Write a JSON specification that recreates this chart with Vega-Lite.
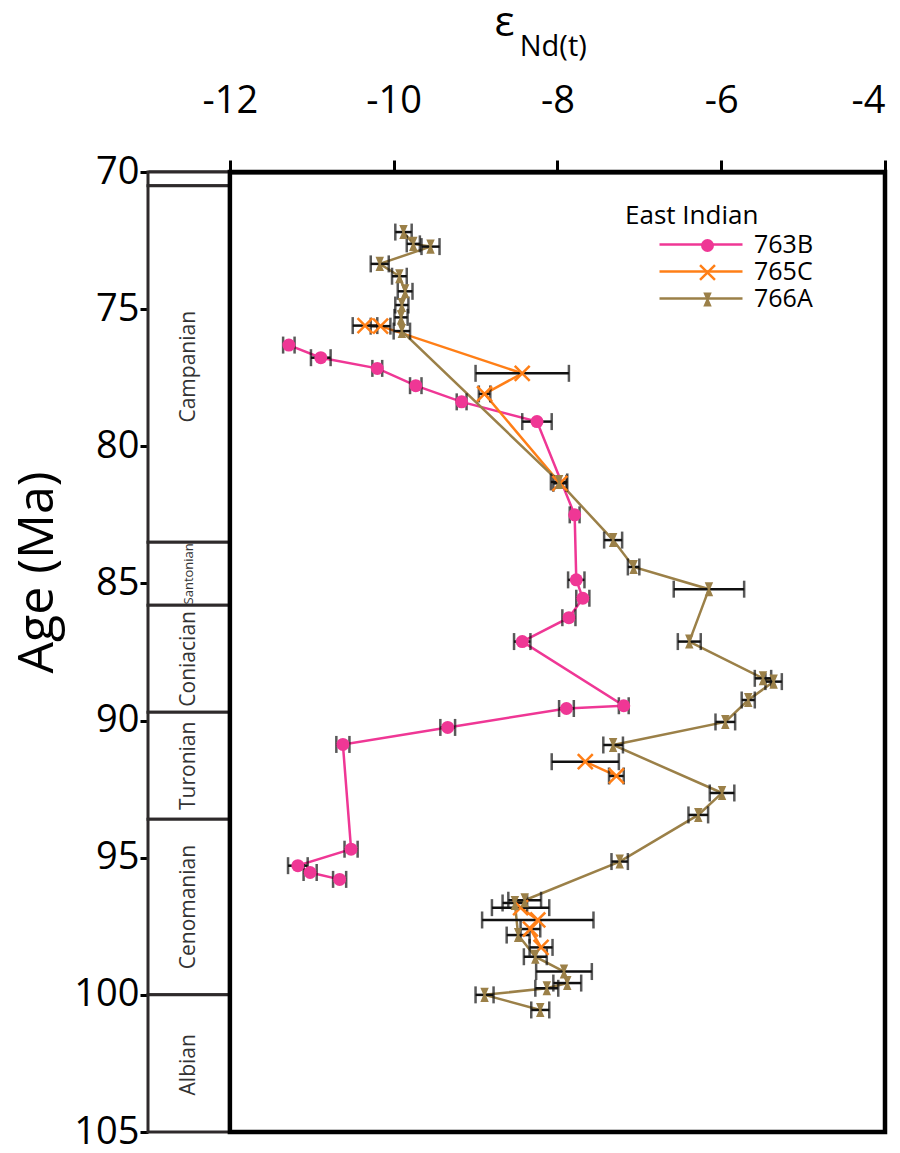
{
  "$schema": "https://vega.github.io/schema/vega-lite/v6.json",
  "width": 737,
  "height": 960,
  "autosize": {"type": "none"},
  "padding": {"left": 148, "top": 172, "right": 15, "bottom": 21},
  "background": "white",
  "config": {"view": {"stroke": null}, "font": "Open Sans"},
  "datasets": {
    "nd": [
      {"site": "763B", "seg": "b1", "age": 76.31, "eps": -11.28, "lo": -11.35, "hi": -11.21},
      {"site": "763B", "seg": "b1", "age": 76.77, "eps": -10.89, "lo": -11.01, "hi": -10.77},
      {"site": "763B", "seg": "b1", "age": 77.16, "eps": -10.20, "lo": -10.26, "hi": -10.14},
      {"site": "763B", "seg": "b1", "age": 77.79, "eps": -9.73, "lo": -9.80, "hi": -9.66},
      {"site": "763B", "seg": "b1", "age": 78.38, "eps": -9.17, "lo": -9.23, "hi": -9.11},
      {"site": "763B", "seg": "b1", "age": 79.10, "eps": -8.25, "lo": -8.43, "hi": -8.07},
      {"site": "763B", "seg": "b1", "age": 82.50, "eps": -7.79, "lo": -7.85, "hi": -7.73},
      {"site": "763B", "seg": "b1", "age": 84.87, "eps": -7.77, "lo": -7.87, "hi": -7.67},
      {"site": "763B", "seg": "b1", "age": 85.54, "eps": -7.69, "lo": -7.77, "hi": -7.61},
      {"site": "763B", "seg": "b1", "age": 86.25, "eps": -7.86, "lo": -7.94, "hi": -7.78},
      {"site": "763B", "seg": "b1", "age": 87.12, "eps": -8.43, "lo": -8.53, "hi": -8.33},
      {"site": "763B", "seg": "b1", "age": 89.46, "eps": -7.19, "lo": -7.25, "hi": -7.13},
      {"site": "763B", "seg": "b1", "age": 89.56, "eps": -7.89, "lo": -7.98, "hi": -7.80},
      {"site": "763B", "seg": "b1", "age": 90.25, "eps": -9.34, "lo": -9.43, "hi": -9.25},
      {"site": "763B", "seg": "b1", "age": 90.87, "eps": -10.62, "lo": -10.70, "hi": -10.54},
      {"site": "763B", "seg": "b1", "age": 94.69, "eps": -10.52, "lo": -10.60, "hi": -10.44},
      {"site": "763B", "seg": "b1", "age": 95.29, "eps": -11.17, "lo": -11.29, "hi": -11.05},
      {"site": "763B", "seg": "b1", "age": 95.54, "eps": -11.02, "lo": -11.10, "hi": -10.94},
      {"site": "763B", "seg": "b1", "age": 95.79, "eps": -10.66, "lo": -10.74, "hi": -10.58},
      {"site": "765C", "seg": "c1", "age": 75.60, "eps": -10.35, "lo": -10.50, "hi": -10.20},
      {"site": "765C", "seg": "c1", "age": 75.62, "eps": -10.16, "lo": -10.28, "hi": -10.04},
      {"site": "765C", "seg": "c1", "age": 77.34, "eps": -8.43, "lo": -9.00, "hi": -7.86},
      {"site": "765C", "seg": "c1", "age": 78.09, "eps": -8.89, "lo": -8.96, "hi": -8.82},
      {"site": "765C", "seg": "c1", "age": 81.35, "eps": -7.97, "lo": -8.05, "hi": -7.89},
      {"site": "765C", "seg": "c2", "age": 91.50, "eps": -7.66, "lo": -8.07, "hi": -7.25},
      {"site": "765C", "seg": "c2", "age": 92.02, "eps": -7.28, "lo": -7.37, "hi": -7.19},
      {"site": "765C", "seg": "c3", "age": 96.82, "eps": -8.45, "lo": -8.80, "hi": -8.10},
      {"site": "765C", "seg": "c3", "age": 97.27, "eps": -8.24, "lo": -8.92, "hi": -7.56},
      {"site": "765C", "seg": "c3", "age": 97.60, "eps": -8.33, "lo": -8.45, "hi": -8.21},
      {"site": "765C", "seg": "c3", "age": 98.27, "eps": -8.20, "lo": -8.34, "hi": -8.06},
      {"site": "766A", "seg": "a1", "age": 72.19, "eps": -9.88, "lo": -9.98, "hi": -9.78},
      {"site": "766A", "seg": "a1", "age": 72.62, "eps": -9.76, "lo": -9.84, "hi": -9.68},
      {"site": "766A", "seg": "a1", "age": 72.72, "eps": -9.55, "lo": -9.66, "hi": -9.44},
      {"site": "766A", "seg": "a1", "age": 73.35, "eps": -10.17, "lo": -10.28, "hi": -10.06},
      {"site": "766A", "seg": "a1", "age": 73.80, "eps": -9.93, "lo": -10.02, "hi": -9.84},
      {"site": "766A", "seg": "a1", "age": 74.35, "eps": -9.86, "lo": -9.95, "hi": -9.77},
      {"site": "766A", "seg": "a1", "age": 74.85, "eps": -9.90, "lo": -9.98, "hi": -9.82},
      {"site": "766A", "seg": "a1", "age": 75.30, "eps": -9.91, "lo": -9.99, "hi": -9.83},
      {"site": "766A", "seg": "a1", "age": 75.80, "eps": -9.90, "lo": -10.00, "hi": -9.80},
      {"site": "766A", "seg": "a1", "age": 81.30, "eps": -7.98, "lo": -8.08, "hi": -7.88},
      {"site": "766A", "seg": "a1", "age": 83.42, "eps": -7.32, "lo": -7.43, "hi": -7.21},
      {"site": "766A", "seg": "a1", "age": 84.40, "eps": -7.07, "lo": -7.14, "hi": -7.00},
      {"site": "766A", "seg": "a1", "age": 85.21, "eps": -6.15, "lo": -6.58, "hi": -5.72},
      {"site": "766A", "seg": "a1", "age": 87.12, "eps": -6.39, "lo": -6.53, "hi": -6.25},
      {"site": "766A", "seg": "a1", "age": 88.46, "eps": -5.49, "lo": -5.59, "hi": -5.39},
      {"site": "766A", "seg": "a1", "age": 88.58, "eps": -5.36, "lo": -5.46, "hi": -5.26},
      {"site": "766A", "seg": "a1", "age": 89.25, "eps": -5.67, "lo": -5.75, "hi": -5.59},
      {"site": "766A", "seg": "a1", "age": 90.05, "eps": -5.95, "lo": -6.07, "hi": -5.83},
      {"site": "766A", "seg": "a1", "age": 90.89, "eps": -7.32, "lo": -7.44, "hi": -7.20},
      {"site": "766A", "seg": "a1", "age": 92.64, "eps": -5.99, "lo": -6.14, "hi": -5.84},
      {"site": "766A", "seg": "a1", "age": 93.44, "eps": -6.28, "lo": -6.40, "hi": -6.16},
      {"site": "766A", "seg": "a1", "age": 95.14, "eps": -7.24, "lo": -7.34, "hi": -7.14},
      {"site": "766A", "seg": "a1", "age": 96.55, "eps": -8.40, "lo": -8.60, "hi": -8.20},
      {"site": "766A", "seg": "a1", "age": 96.65, "eps": -8.52, "lo": -8.67, "hi": -8.37},
      {"site": "766A", "seg": "a1", "age": 97.82, "eps": -8.48, "lo": -8.62, "hi": -8.34},
      {"site": "766A", "seg": "a1", "age": 98.61, "eps": -8.27, "lo": -8.41, "hi": -8.13},
      {"site": "766A", "seg": "a1", "age": 99.15, "eps": -7.92, "lo": -8.26, "hi": -7.58},
      {"site": "766A", "seg": "a1", "age": 99.57, "eps": -7.88, "lo": -8.05, "hi": -7.71},
      {"site": "766A", "seg": "a1", "age": 99.76, "eps": -8.13, "lo": -8.27, "hi": -7.99},
      {"site": "766A", "seg": "a1", "age": 100.00, "eps": -8.89, "lo": -9.00, "hi": -8.78},
      {"site": "766A", "seg": "a1", "age": 100.55, "eps": -8.21, "lo": -8.32, "hi": -8.10}
    ],
    "stages": [
      {"stage": "", "start": 70.0, "end": 70.5, "label_age": 70.25},
      {"stage": "Campanian", "start": 70.5, "end": 83.5, "label_age": 77.1},
      {"stage": "Santonian", "start": 83.5, "end": 85.8, "label_age": 84.65},
      {"stage": "Coniacian", "start": 85.8, "end": 89.7, "label_age": 87.75},
      {"stage": "Turonian", "start": 89.7, "end": 93.6, "label_age": 91.65},
      {"stage": "Cenomanian", "start": 93.6, "end": 100.0, "label_age": 96.8},
      {"stage": "Albian", "start": 100.0, "end": 105.0, "label_age": 102.55}
    ]
  },
  "layer": [
    {
      "data": {"name": "stages"},
      "mark": {"type": "rect", "fill": "white", "stroke": "#2e2a2b", "strokeWidth": 3},
      "encoding": {
        "x": {"datum": -13, "type": "quantitative", "scale": {"domain": [-13, -4], "nice": false, "zero": false},
          "axis": {"orient": "top", "values": [-12, -10, -8, -6, -4], "labelExpr": "'' + datum.value", "grid": false, "domainColor": "black", "domainWidth": 4, "tickColor": "black", "tickWidth": 3, "tickSize": 12, "labelFontSize": 38, "labelColor": "black", "labelPadding": 40, "title": "ε", "titleFontSize": 42, "titleFontWeight": "normal", "titleColor": "black", "titleX": 346, "titleY": -137, "titleAlign": "left", "titleBaseline": "alphabetic"}},
        "x2": {"datum": -12},
        "y": {"field": "start", "type": "quantitative", "scale": {"domain": [70, 105], "reverse": true, "nice": false, "zero": false},
          "axis": {"orient": "left", "values": [70, 75, 80, 85, 90, 95, 100, 105], "grid": false, "domainColor": "#2e2a2b", "domainWidth": 3, "tickColor": "black", "tickWidth": 3, "tickSize": 8, "labelFontSize": 38, "labelColor": "black", "labelPadding": 1, "title": "Age (Ma)", "titleFontSize": 50, "titleFontWeight": "normal", "titleColor": "black", "titleX": -96, "titleY": 400, "titleAngle": 270, "titleAlign": "center", "titleBaseline": "alphabetic"}},
        "y2": {"field": "end"}
      }
    },
    {
      "data": {"values": [{"label": "Nd(t)"}]},
      "mark": {"type": "text", "fontSize": 29, "color": "black", "align": "left", "baseline": "alphabetic"},
      "encoding": {
        "x": {"datum": -8.46, "type": "quantitative"},
        "y": {"datum": 65.77, "type": "quantitative"},
        "text": {"field": "label"}
      }
    },
    {
      "data": {"name": "stages"},
      "transform": [{"filter": "datum.stage !== 'Santonian'"}],
      "mark": {"type": "text", "angle": 270, "fontSize": 21, "color": "#333333", "align": "center", "baseline": "middle"},
      "encoding": {
        "x": {"datum": -12.5, "type": "quantitative"},
        "y": {"field": "label_age", "type": "quantitative"},
        "text": {"field": "stage"}
      }
    },
    {
      "data": {"name": "stages"},
      "transform": [{"filter": "datum.stage === 'Santonian'"}],
      "mark": {"type": "text", "angle": 270, "fontSize": 13, "color": "#333333", "align": "center", "baseline": "middle"},
      "encoding": {
        "x": {"datum": -12.5, "type": "quantitative"},
        "y": {"field": "label_age", "type": "quantitative"},
        "text": {"field": "stage"}
      }
    },
    {
      "data": {"values": [{"frame": "main"}]},
      "mark": {"type": "rect", "filled": false, "color": "black", "strokeWidth": 4.5},
      "encoding": {
        "x": {"datum": -12, "type": "quantitative"},
        "x2": {"datum": -4},
        "y": {"datum": 70, "type": "quantitative"},
        "y2": {"datum": 105}
      }
    },
    {
      "data": {"name": "nd"},
      "mark": {"type": "line", "strokeWidth": 2.5},
      "encoding": {
        "x": {"field": "eps", "type": "quantitative"},
        "y": {"field": "age", "type": "quantitative"},
        "stroke": {"field": "site", "type": "nominal", "scale": {"range": ["#ef3795", "#ff7f17", "#9b8048"]},
          "legend": {"orient": "none", "legendX": 477, "legendY": 31, "title": "East Indian", "titleFontSize": 26, "titleFontWeight": "normal", "titleColor": "black", "titlePadding": 2, "labelFontSize": 25, "labelColor": "black", "symbolType": "stroke", "symbolSize": 6889, "symbolStrokeWidth": 2.5, "clipHeight": 27, "rowPadding": 0, "symbolOffset": 33, "labelOffset": 10}},
        "detail": {"field": "seg"},
        "order": {"field": "age", "type": "quantitative"}
      }
    },
    {
      "data": {"name": "nd"},
      "mark": {"type": "rule", "color": "#111111", "strokeWidth": 2.5},
      "encoding": {
        "x": {"field": "lo", "type": "quantitative"},
        "x2": {"field": "hi"},
        "y": {"field": "age", "type": "quantitative"}
      }
    },
    {
      "data": {"name": "nd"},
      "mark": {"type": "tick", "orient": "vertical", "color": "#111111", "size": 17, "thickness": 2.5},
      "encoding": {
        "x": {"field": "lo", "type": "quantitative"},
        "y": {"field": "age", "type": "quantitative"}
      }
    },
    {
      "data": {"name": "nd"},
      "mark": {"type": "tick", "orient": "vertical", "color": "#111111", "size": 17, "thickness": 2.5},
      "encoding": {
        "x": {"field": "hi", "type": "quantitative"},
        "y": {"field": "age", "type": "quantitative"}
      }
    },
    {
      "data": {"name": "nd"},
      "mark": {"type": "point", "filled": true, "size": 169, "opacity": 1},
      "encoding": {
        "x": {"field": "eps", "type": "quantitative"},
        "y": {"field": "age", "type": "quantitative"},
        "color": {"field": "site", "type": "nominal", "scale": {"domain": ["763B", "765C", "766A"], "range": ["#ef3795", "#ff7f17", "#9b8048"]},
          "legend": {"orient": "none", "legendX": 477, "legendY": 60, "title": null, "labelFontSize": 25, "labelExpr": "''", "symbolSize": 169, "symbolStrokeWidth": 0, "clipHeight": 27, "rowPadding": 0, "symbolOffset": 70, "labelOffset": 10}},
        "shape": {"field": "site", "type": "nominal",
          "scale": {"domain": ["763B", "765C", "766A"], "range": [
            "circle",
            "M-1.286,-1.014L-1.014,-1.286L1.286,1.014L1.014,1.286Z M-1.286,1.014L1.014,-1.286L1.286,-1.014L-1.014,1.286Z",
            "M-0.65,-1.08L0.65,-1.08L0.18,0L0.65,1.08L-0.65,1.08L-0.18,0Z"
          ]},
          "legend": {"orient": "none", "legendX": 477, "legendY": 60, "title": null, "labelFontSize": 25, "labelExpr": "''", "symbolSize": 169, "symbolStrokeWidth": 0, "clipHeight": 27, "rowPadding": 0, "symbolOffset": 70, "labelOffset": 10}}
      }
    }
  ]
}
